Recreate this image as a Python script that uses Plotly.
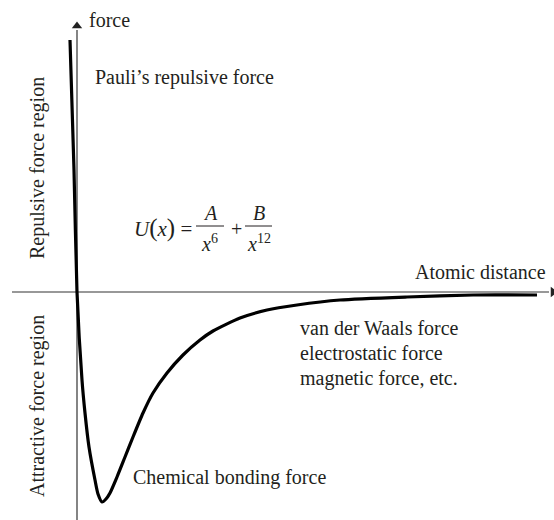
import plotly.graph_objects as go

# curve: distance from the force axis, force (up = repulsive)
distance = [-7, -3, 0, 5, 8, 12, 18, 21, 25, 29, 33, 40, 48, 56, 66, 76, 90, 106, 123, 136,
            163, 190, 220, 263, 330, 396, 460]
force = [252, 122, 0, -88, -121, -155, -188, -202, -210, -207, -201, -185, -165, -145, -121, -101, -81, -63, -48, -39,
         -26, -18, -13, -8, -5, -3, -3]

ink = '#231f20'
serif = 'Liberation Serif, Times New Roman, serif'

fig = go.Figure()

# axes with arrowheads
fig.add_trace(go.Scatter(x=[0, 0], y=[-228, 262], mode='lines', line=dict(color='#333', width=1.2),
                         hoverinfo='skip', showlegend=False))
fig.add_trace(go.Scatter(x=[0], y=[266], mode='markers', hoverinfo='skip', showlegend=False,
                         marker=dict(symbol='triangle-up', size=9, color='#222')))
fig.add_trace(go.Scatter(x=[-65, 472], y=[0, 0], mode='lines', line=dict(color='#333', width=1.2),
                         hoverinfo='skip', showlegend=False))
fig.add_trace(go.Scatter(x=[476], y=[0], mode='markers', hoverinfo='skip', showlegend=False,
                         marker=dict(symbol='triangle-right', size=9, color='#222')))

fig.add_trace(go.Scatter(x=distance, y=force, mode='lines',
                         line=dict(color='black', width=3.2, shape='spline', smoothing=0.6),
                         hoverinfo='skip', showlegend=False))

def label(text, x, y, xanchor='left', angle=0, size=20):
    fig.add_annotation(x=x, y=y, xref='x', yref='y', text=text, showarrow=False,
                       xanchor=xanchor, yanchor='middle', textangle=angle,
                       font=dict(family=serif, size=size, color=ink))

label('force', 10, 272)
label('Pauli’s repulsive force', 16, 215)
label('Atomic distance', 336, 20)
label('van der Waals force', 221, -36)
label('electrostatic force', 221, -61)
label('magnetic force, etc.', 221, -86)
label('Chemical bonding force', 54, -185)
label('Repulsive force region', -40, 124, xanchor='center', angle=-90)
label('Attractive force region', -40, -114, xanchor='center', angle=-90)

# formula U(x) = A/x^6 + B/x^12
label('<i>U</i><span style="font-size:25px">(</span><i>x</i><span style="font-size:25px">)</span> =', 55, 64, size=21)
label('<i>A</i>', 133, 79, xanchor='center', size=20)
label('<i>x</i><sup>6</sup>', 132, 49, xanchor='center', size=20)
label('+', 159, 63, xanchor='center', size=20)
label('<i>B</i>', 182, 79, xanchor='center', size=20)
label('<i>x</i><sup>12</sup>', 182, 49, xanchor='center', size=20)
fig.add_shape(type='line', x0=119, x1=147, y0=66, y1=66, xref='x', yref='y',
              line=dict(color=ink, width=1))
fig.add_shape(type='line', x0=168, x1=195, y0=66, y1=66, xref='x', yref='y',
              line=dict(color=ink, width=1))

fig.update_xaxes(range=[-77, 477], visible=False, fixedrange=True)
fig.update_yaxes(range=[-228, 292], visible=False, fixedrange=True)
fig.update_layout(width=554, height=520, margin=dict(l=0, r=0, t=0, b=0),
                  plot_bgcolor='white', paper_bgcolor='white')

fig.write_html('out.html', config={'displayModeBar': False},
               post_script="document.body.style.margin='0';")
